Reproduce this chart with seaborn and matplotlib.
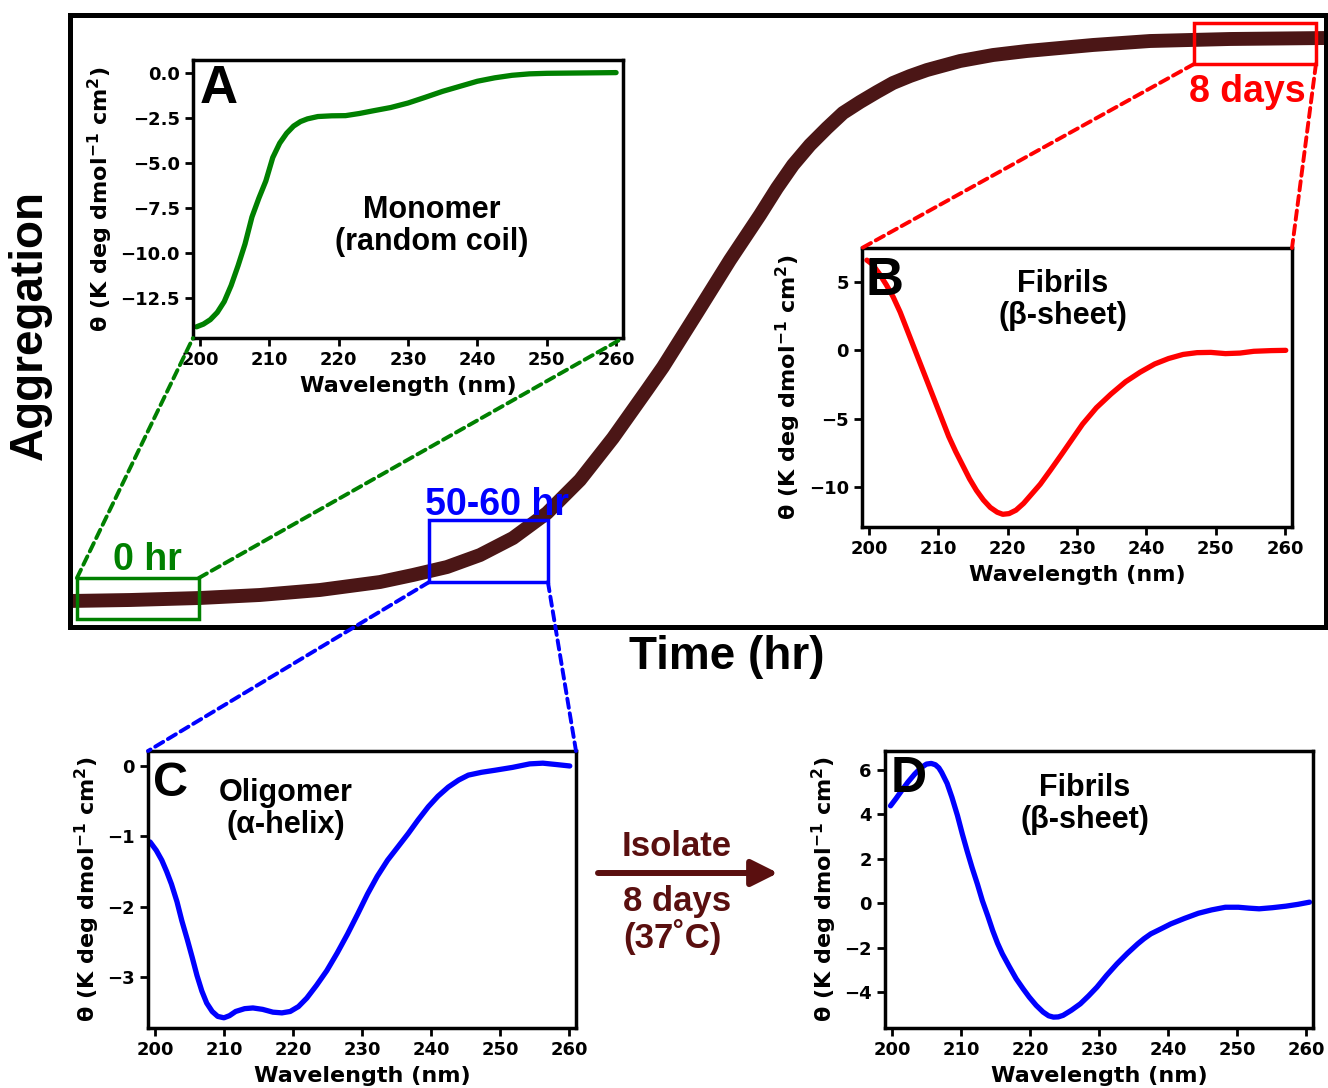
import matplotlib
matplotlib.use("Agg")
import matplotlib.pyplot as plt
import seaborn as sns
import pandas as pd
from matplotlib.patches import Rectangle, ConnectionPatch, FancyArrowPatch

# --- main aggregation curve (arbitrary units) ---
time_hr = [0, 9.55, 20.7, 30.25, 39.81, 49.36, 54.62, 60.03, 65.29, 70.54, 75.96,
           81.21, 86.46, 91.88, 94.43, 99.84, 105.1, 109.87, 112.58, 115.13, 117.83,
           120.54, 123.09, 125.8, 128.5, 131.05, 133.76, 136.46, 141.72, 146.97,
           152.39, 157.64, 162.9, 171.97, 184.71, 200.0]
aggregation = [4.25, 4.41, 4.74, 5.23, 6.05, 7.35, 8.5, 9.8, 11.76, 14.54, 18.63,
               24.02, 30.88, 38.73, 42.48, 51.31, 59.97, 67.32, 71.73, 75.49, 78.76,
               81.54, 83.99, 85.78, 87.42, 88.89, 90.03, 91.01, 92.48, 93.46,
               94.12, 94.61, 95.1, 95.75, 96.08, 96.24]

# --- CD spectra ---
wl_A = [199.5, 200.5, 201.5, 202.5, 203.5, 204.5, 205.5, 206.5, 207.5, 208.5, 209.5,
        210.5, 211.5, 212.5, 213.5, 214.5, 215.5, 217, 219, 221, 223, 225, 227.5, 230,
        232.5, 235, 237.5, 240, 242.5, 245, 247.5, 250, 255, 260]
theta_A = [-14.1, -13.95, -13.7, -13.3, -12.7, -11.8, -10.7, -9.5, -8.0, -6.95, -6.0,
           -4.7, -3.9, -3.35, -2.95, -2.7, -2.55, -2.42, -2.38, -2.37, -2.25, -2.1,
           -1.92, -1.67, -1.35, -1.02, -0.74, -0.46, -0.27, -0.13, -0.05, -0.02, 0.0, 0.02]

wl_B = [199.7, 200.5, 201.5, 202.5, 203.5, 204.5, 205.5, 206.5, 207.5, 208.5, 209.5,
        210.5, 211.5, 212.5, 213.5, 214.5, 215.5, 216.5, 217.5, 218.5, 219.3, 220.2,
        221.2, 222.3, 223.5, 224.7, 226.2, 227.8, 229.3, 230.8, 232.8, 234.9, 237,
        239.1, 241.2, 243.2, 245.3, 247.3, 249.3, 251.4, 253.5, 255.5, 258, 260.1]
theta_B = [6.6, 6.3, 5.6, 4.8, 3.9, 2.8, 1.5, 0.2, -1.1, -2.4, -3.7,
           -5.0, -6.3, -7.4, -8.4, -9.4, -10.25, -10.95, -11.5, -11.85, -12.0, -11.95,
           -11.7, -11.2, -10.5, -9.8, -8.75, -7.6, -6.5, -5.4, -4.2, -3.2, -2.3,
           -1.6, -1.0, -0.6, -0.3, -0.17, -0.15, -0.24, -0.2, -0.07, -0.02, 0.0]

wl_C = [199.3, 200.2, 201, 201.7, 202.4, 203.2, 203.9, 204.7, 205.4, 206.1, 206.8,
        207.5, 208.3, 209.1, 210, 210.8, 211.7, 213, 214.2, 215.6, 217.1, 218.4, 219.6,
        220.8, 222, 223.4, 224.9, 226.4, 227.9, 229.4, 230.8, 232.2, 233.7, 235.2,
        236.7, 238.1, 239.6, 241, 242.5, 244, 245.4, 247.3, 249.3, 251.8, 254.3,
        256.2, 258.2, 260.1]
theta_C = [-1.08, -1.2, -1.34, -1.5, -1.68, -1.93, -2.2, -2.47, -2.72, -2.98, -3.2,
           -3.37, -3.49, -3.56, -3.58, -3.55, -3.49, -3.45, -3.44, -3.46, -3.5, -3.51,
           -3.49, -3.42, -3.3, -3.12, -2.91, -2.66, -2.39, -2.1, -1.82, -1.57, -1.34,
           -1.15, -0.96, -0.77, -0.58, -0.43, -0.3, -0.2, -0.13, -0.09, -0.06, -0.02,
           0.03, 0.04, 0.02, 0.0]

wl_D = [199.8, 200.6, 201.4, 202.3, 203.3, 204.2, 205, 205.7, 206.3, 206.8, 207.2,
        208, 208.7, 209.5, 210.2, 210.9, 211.6, 212.4, 213.1, 213.9, 214.6, 215.3, 216,
        217, 218, 219, 219.9, 220.9, 221.9, 222.7, 223.4, 224.1, 224.8, 226, 227.3,
        228.5, 229.7, 231.1, 232.6, 234.1, 235.6, 236.5, 237.5, 239, 240.4, 242.4,
        244.4, 246.3, 248.3, 250.2, 251.7, 253.2, 255.1, 257.1, 258.8, 260.5]
theta_D = [4.39, 4.72, 5.07, 5.45, 5.82, 6.1, 6.27, 6.3, 6.24, 6.1, 5.9,
           5.4, 4.77, 3.95, 3.12, 2.35, 1.62, 0.85, 0.12, -0.58, -1.23, -1.8, -2.28,
           -2.85, -3.4, -3.85, -4.23, -4.6, -4.9, -5.07, -5.13, -5.12, -5.05, -4.82, -4.53,
           -4.17, -3.78, -3.25, -2.73, -2.26, -1.83, -1.6, -1.38, -1.15, -0.93, -0.68,
           -0.45, -0.3, -0.18, -0.18, -0.22, -0.25, -0.2, -0.13, -0.05, 0.05]

# zoom windows on the aggregation curve: (t0, t1, a0, a1)
box_green = (1.1, 20.5, 1.3, 8.0)
box_blue = (57.2, 76.1, 7.35, 17.5)
box_red = (179.0, 198.4, 92.0, 98.7)

BROWN = "#4b1616"
MAROON = "#5a0f0f"
GREEN = "green"
BLUE = "#0000ff"
RED = "#ff0000"
SANS = ["Liberation Sans", "DejaVu Sans"]

sns.set_style("ticks", {"axes.edgecolor": "black", "text.color": "black",
                        "xtick.color": "black", "ytick.color": "black",
                        "axes.labelcolor": "black"})
plt.rcParams["font.family"] = ["DejaVu Sans"]
plt.rcParams["font.weight"] = "bold"
plt.rcParams["axes.labelweight"] = "bold"
plt.rcParams["mathtext.default"] = "regular"

W, H = 1328, 1088
fig = plt.figure(figsize=(W / 100, H / 100), dpi=100)


def px_rect(x0, y0, x1, y1):
    return [x0 / W, 1 - y1 / H, (x1 - x0) / W, (y1 - y0) / H]


# main panel
ax = fig.add_axes(px_rect(70, 15, 1326, 627))
main_df = pd.DataFrame({"time": time_hr, "agg": aggregation})
sns.lineplot(data=main_df, x="time", y="agg", ax=ax, color=BROWN, lw=10,
             solid_joinstyle="round")
ax.set_xlim(0, 200)
ax.set_ylim(0, 100)
ax.set_xticks([])
ax.set_yticks([])
ax.set_xlabel("")
ax.set_ylabel("")
for s in ax.spines.values():
    s.set_linewidth(3.6)

for (t0, t1, a0, a1), col in [(box_green, GREEN), (box_blue, BLUE), (box_red, RED)]:
    ax.add_patch(Rectangle((t0, a0), t1 - t0, a1 - a0, fill=False, ec=col, lw=2.5, zorder=5))

ax.text(12.4, 9.3, "0 hr", color=GREEN, fontsize=27, ha="center", va="baseline", family=SANS)
ax.text(68.0, 18.3, "50-60 hr", color=BLUE, fontsize=27, ha="center", va="baseline", family=SANS)
ax.text(187.4, 85.8, "8 days", color=RED, fontsize=27, ha="center", va="baseline", family=SANS)

fig.text(30 / W, 1 - 325 / H, "Aggregation", rotation=90, fontsize=33, ha="center", va="center", family=SANS)
fig.text(727 / W, 1 - 657 / H, "Time (hr)", fontsize=33, ha="center", va="center", family=SANS)


def cd_inset(rect, wl, th, color, ylim, yticks, letter, letter_pos, letter_size, note, note_pos):
    a = fig.add_axes(rect)
    df = pd.DataFrame({"wl": wl, "theta": th})
    sns.lineplot(data=df, x="wl", y="theta", ax=a, color=color, lw=3.8,
                 solid_joinstyle="round")
    a.set_xlim(199, 261)
    a.set_ylim(*ylim)
    a.set_xticks([200, 210, 220, 230, 240, 250, 260])
    a.set_yticks(yticks)
    a.tick_params(labelsize=13, length=6, width=2)
    for s in a.spines.values():
        s.set_linewidth(2.5)
    a.set_xlabel("Wavelength (nm)", fontsize=16, labelpad=5)
    a.set_ylabel(r"θ (K deg dmol$^{-1}$ cm$^{2}$)", fontsize=16)
    a.text(letter_pos[0], letter_pos[1], letter, transform=a.transAxes, fontsize=letter_size,
           ha="left", va="baseline", family=SANS)
    a.text(note_pos[0], note_pos[1], note, transform=a.transAxes, fontsize=22,
           ha="center", va="center", linespacing=1.1, family=SANS)
    return a


axA = cd_inset(px_rect(193, 60, 623, 338), wl_A, theta_A, GREEN, (-14.72, 0.72),
               [0, -2.5, -5, -7.5, -10, -12.5], "A", (0.016, 0.845), 38,
               "Monomer\n(random coil)", (0.556, 0.403))
axB = cd_inset(px_rect(862, 248, 1292, 527), wl_B, theta_B, RED, (-12.93, 7.49),
               [5, 0, -5, -10], "B", (0.009, 0.832), 38,
               "Fibrils\n(β-sheet)", (0.467, 0.814))
axC = cd_inset(px_rect(148, 751, 576, 1028), wl_C, theta_C, BLUE, (-3.725, 0.213),
               [0, -1, -2, -3], "C", (0.012, 0.838), 35,
               "Oligomer\n(α-helix)", (0.321, 0.79))
axD = cd_inset(px_rect(885, 751, 1313, 1028), wl_D, theta_D, BLUE, (-5.62, 6.86),
               [6, 4, 2, 0, -2, -4], "D", (0.012, 0.852), 36,
               "Fibrils\n(β-sheet)", (0.467, 0.809))

# dashed zoom connectors
links = [
    ((box_green[0], box_green[3]), axA, (0, 0), GREEN),
    ((box_green[1], box_green[3]), axA, (1, 0), GREEN),
    ((box_red[0], box_red[2]), axB, (0, 1), RED),
    ((box_red[1], box_red[2]), axB, (1, 1), RED),
    ((box_blue[0], box_blue[2]), axC, (0, 1), BLUE),
    ((box_blue[1], box_blue[2]), axC, (1, 1), BLUE),
]
for xyA, target, xyB, col in links:
    con = ConnectionPatch(xyA=xyA, coordsA=ax.transData, xyB=xyB, coordsB=target.transAxes,
                          color=col, lw=2.8, linestyle=(0, (2.4, 1.4)), zorder=6)
    fig.add_artist(con)

# isolate arrow between C and D
fig.add_artist(FancyArrowPatch(
    (598 / W, 1 - 873 / H), (778 / W, 1 - 873 / H), transform=fig.transFigure,
    arrowstyle="-|>", mutation_scale=40, color=MAROON, lw=4.3, shrinkA=0, shrinkB=0))
fig.text(677 / W, 1 - 847 / H, "Isolate", color=MAROON, fontsize=25, ha="center", va="center", family=SANS)
fig.text(677 / W, 1 - 920 / H, "8 days\n(37˚C)", color=MAROON, fontsize=25, ha="center",
         va="center", multialignment="left", linespacing=1.05, family=SANS)

fig.savefig("out.png", dpi=100)
